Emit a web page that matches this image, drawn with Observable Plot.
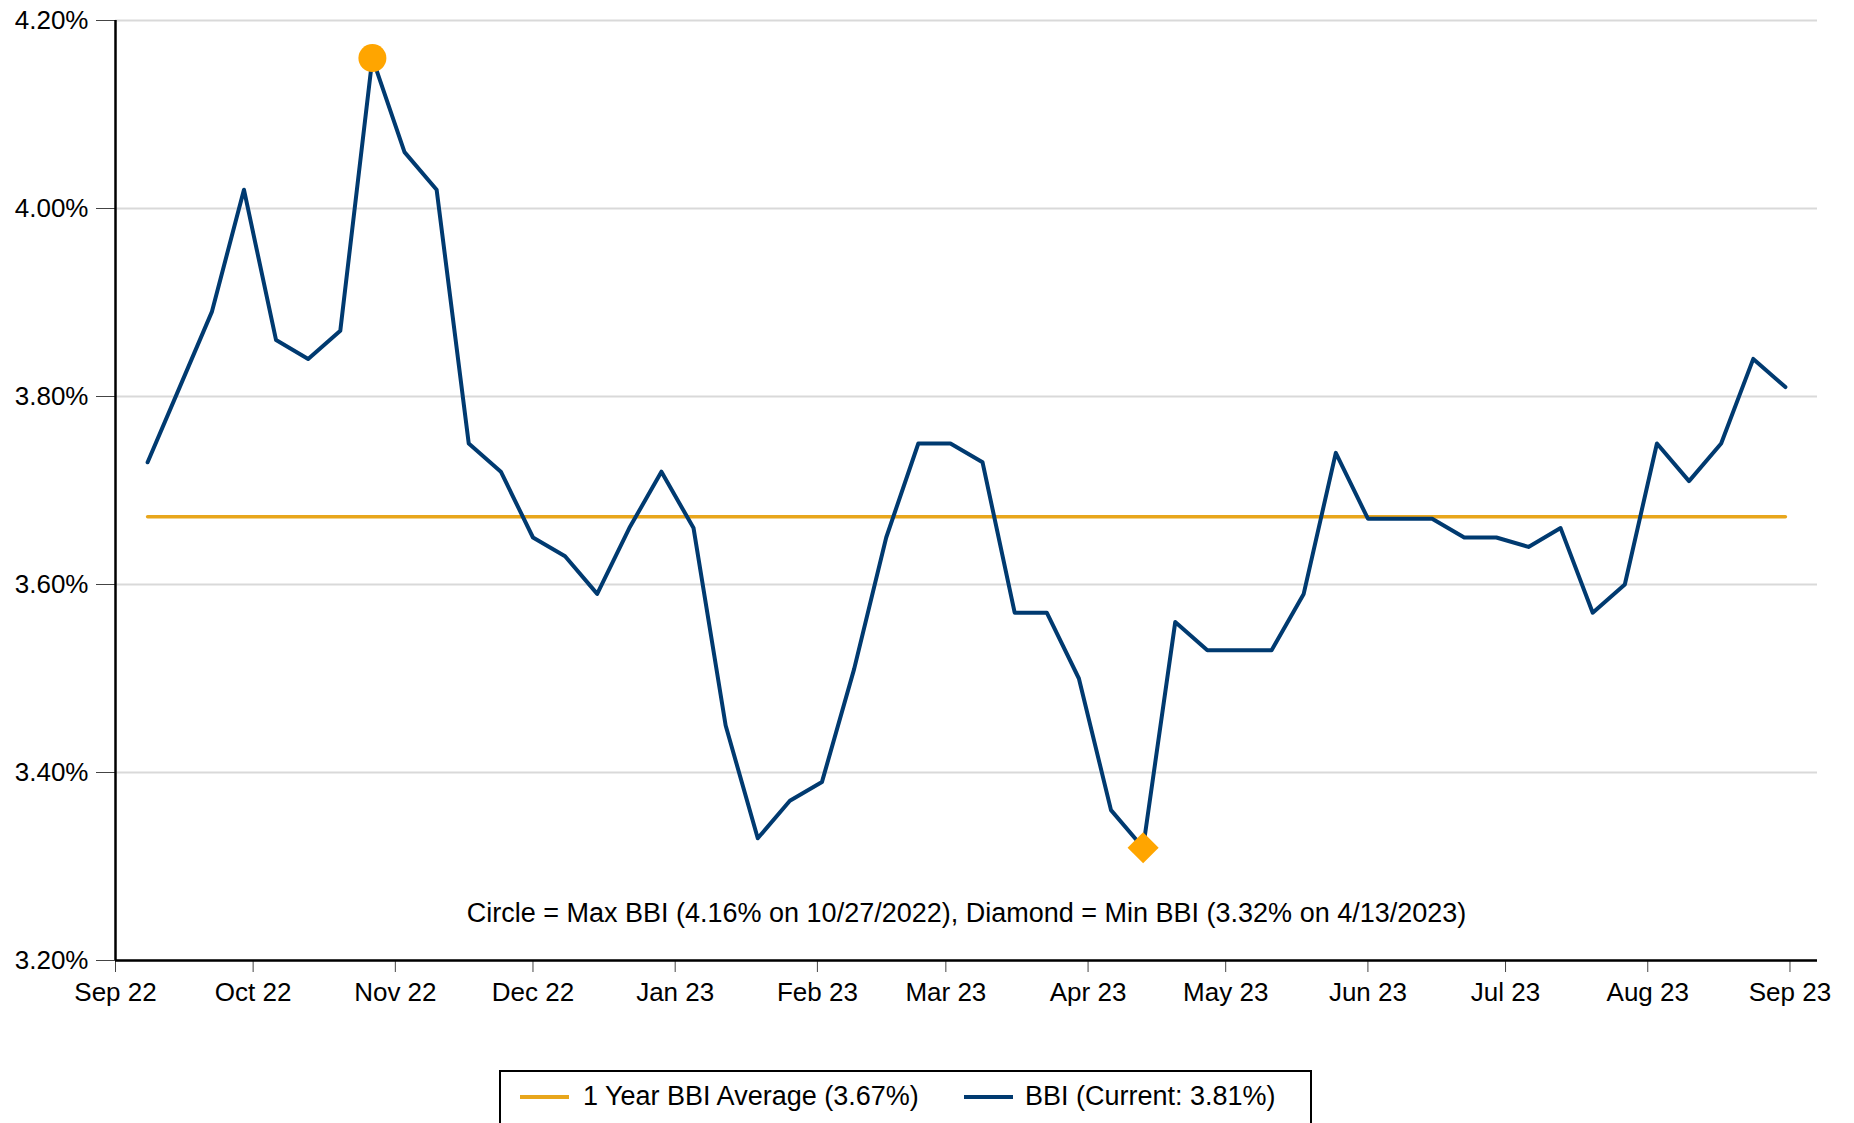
<!DOCTYPE html>
<html>
<head>
<meta charset="utf-8">
<script src="https://cdn.jsdelivr.net/npm/d3@7"></script>
<script src="https://cdn.jsdelivr.net/npm/@observablehq/plot@0.6"></script>
<style>
  html, body { margin: 0; padding: 0; background: #fff; overflow: hidden; }
  body { width: 1854px; height: 1123px; position: relative; font-family: "Liberation Sans", Arial, sans-serif; }
  #legend { position: absolute; left: 499px; top: 1070px; width: 809px; height: 100px; border: 2px solid #000; box-sizing: content-box; }
  .sw { position: absolute; top: 23px; height: 4px; width: 49px; }
  .lt { position: absolute; top: 9px; font-size: 27px; line-height: 30px; color: #000; white-space: nowrap; }
</style>
</head>
<body>
<div id="chart"></div>
<div id="legend">
  <div class="sw" style="left:19px;background:#e8a61c"></div>
  <div class="lt" style="left:82px">1 Year BBI Average (3.67%)</div>
  <div class="sw" style="left:463px;background:#003a70"></div>
  <div class="lt" style="left:524px">BBI (Current: 3.81%)</div>
</div>
<script>
const dates = [
  "2022-09-08","2022-09-15","2022-09-22","2022-09-29",
  "2022-10-06","2022-10-13","2022-10-20","2022-10-27",
  "2022-11-03","2022-11-10","2022-11-17","2022-11-24",
  "2022-12-01","2022-12-08","2022-12-15","2022-12-22","2022-12-29",
  "2023-01-05","2023-01-12","2023-01-19","2023-01-26",
  "2023-02-02","2023-02-09","2023-02-16","2023-02-23",
  "2023-03-02","2023-03-09","2023-03-16","2023-03-23","2023-03-30",
  "2023-04-06","2023-04-13","2023-04-20","2023-04-27",
  "2023-05-04","2023-05-11","2023-05-18","2023-05-25",
  "2023-06-01","2023-06-08","2023-06-15","2023-06-22","2023-06-29",
  "2023-07-06","2023-07-13","2023-07-20","2023-07-27",
  "2023-08-03","2023-08-10","2023-08-17","2023-08-24","2023-08-31"
];
const bbi = [
  3.73, 3.81, 3.89, 4.02,
  3.86, 3.84, 3.87, 4.16,
  4.06, 4.02, 3.75, 3.72,
  3.65, 3.63, 3.59, 3.66, 3.72,
  3.66, 3.45, 3.33, 3.37,
  3.39, 3.51, 3.65, 3.75,
  3.75, 3.73, 3.57, 3.57, 3.50,
  3.36, 3.32, 3.56, 3.53,
  3.53, 3.53, 3.59, 3.74,
  3.67, 3.67, 3.67, 3.65, 3.65,
  3.64, 3.66, 3.57, 3.60,
  3.75, 3.71, 3.75, 3.84, 3.81
];
const average = 3.672;
const yTicks = [3.2, 3.4, 3.6, 3.8, 4.0, 4.2];
const xTickDates = ["2022-09-01","2022-10-01","2022-11-01","2022-12-01","2023-01-01","2023-02-01",
  "2023-03-01","2023-04-01","2023-05-01","2023-06-01","2023-07-01","2023-08-01","2023-09-01"];
const xDomain = ["2022-09-01", "2023-09-07"];
const maxPoint = {date: "2022-10-27", value: 4.16};
const minPoint = {date: "2023-04-13", value: 3.32};
const caption = "Circle = Max BBI (4.16% on 10/27/2022), Diamond = Min BBI (3.32% on 4/13/2023)";

const parse = s => new Date(s + "T00:00:00Z");
const data = dates.map((d, i) => ({date: parse(d), value: bbi[i]}));
const avgData = [{date: parse(dates[0]), value: average}, {date: parse(dates[dates.length - 1]), value: average}];
const xTicks = xTickDates.map(parse);

const navy = "#003a70";
const gold = "#e8a61c";
const orange = "#ffa500";

const chart = Plot.plot({
  width: 1854,
  height: 1010,
  marginLeft: 115,
  marginRight: 37,
  marginTop: 20,
  marginBottom: 50,
  style: {fontFamily: "'Liberation Sans', Arial, sans-serif", fontSize: "26px", color: "#000", background: "#fff"},
  x: {type: "utc", domain: xDomain.map(parse)},
  y: {domain: [3.2, 4.2]},
  marks: [
    Plot.gridY(yTicks, {stroke: "#d9d9d9", strokeOpacity: 1, strokeWidth: 2}),
    Plot.axisY(yTicks, {tickFormat: d => d.toFixed(2) + "%", tickSize: 19, tickPadding: 8, stroke: "#444", label: null, fill: "#000"}),
    Plot.axisX(xTicks, {tickFormat: d3.utcFormat("%b %y"), tickSize: 12, tickPadding: 10, stroke: "#444", label: null, fill: "#000"}),
    Plot.ruleY([3.2], {stroke: "#000", strokeWidth: 2.5}),
    Plot.ruleX([parse(xDomain[0])], {stroke: "#000", strokeWidth: 2.5}),
    Plot.line(avgData, {x: "date", y: "value", stroke: gold, strokeWidth: 3.5}),
    Plot.line(data, {x: "date", y: "value", stroke: navy, strokeWidth: 4}),
    Plot.dot([maxPoint], {x: d => parse(d.date), y: "value", r: 14, fill: orange, stroke: "none"}),
    Plot.dot([minPoint], {x: d => parse(d.date), y: "value", r: 14, symbol: "diamond2", fill: orange, stroke: "none"}),
    Plot.text([caption], {frameAnchor: "bottom", dy: -39, fontSize: 27, fill: "#000"})
  ]
});
document.getElementById("chart").appendChild(chart);
</script>
</body>
</html>
